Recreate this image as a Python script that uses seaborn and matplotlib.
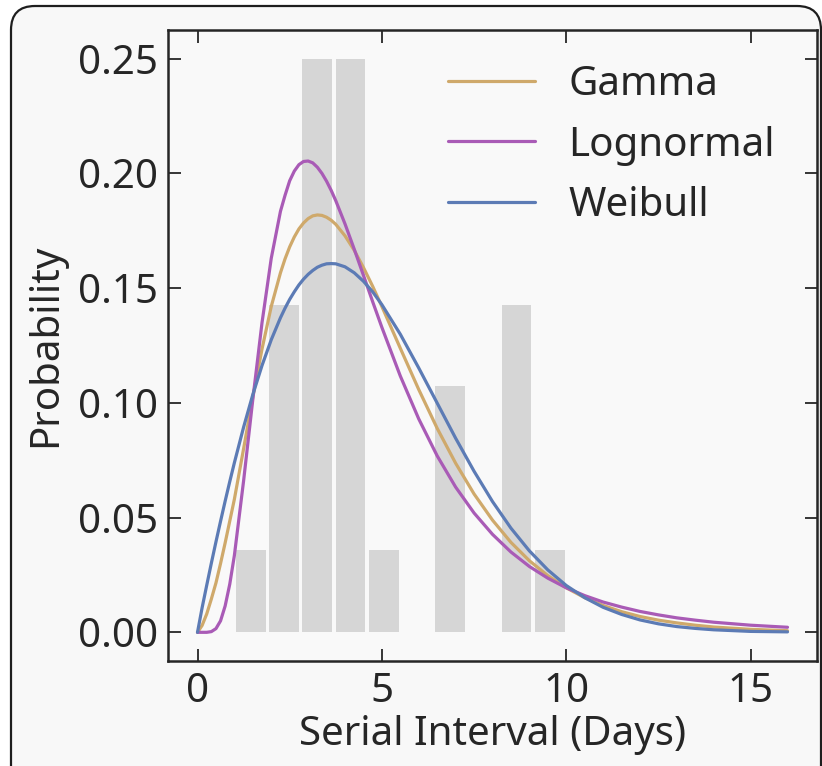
import matplotlib
matplotlib.use("Agg")
import matplotlib.pyplot as plt
from matplotlib.patches import FancyBboxPatch
from matplotlib.transforms import IdentityTransform
import pandas as pd
import seaborn as sns

# Observed serial intervals (days)
serial_days = [1,
               2, 2, 2, 2,
               3, 3, 3, 3, 3, 3, 3,
               4, 4, 4, 4, 4, 4, 4,
               5,
               7, 7, 7,
               9, 9, 9, 9,
               10]

# Grid of days at which the fitted densities are tabulated
days = [0, 0.125, 0.25, 0.375, 0.5, 0.625, 0.75, 0.875,
        1.0, 1.25, 1.5, 1.75, 2.0, 2.25,
        2.375, 2.5, 2.625, 2.75, 2.875, 3.0, 3.125, 3.25, 3.375, 3.5, 3.625, 3.75,
        4.0, 4.25, 4.5, 4.75, 5.0,
        5.5, 6.0, 6.5, 7.0, 7.5, 8.0, 8.5, 9.0, 9.5, 10,
        10.5, 11, 11.5, 12, 12.5, 13, 13.5, 14, 15, 16]

gamma_pdf = [0.0, 0.0030, 0.0080, 0.0145, 0.0215, 0.0300, 0.0390, 0.0485,
             0.0580, 0.0800, 0.1025, 0.1235, 0.1420, 0.1567,
             0.1628, 0.1680, 0.1723, 0.1758, 0.1784, 0.1803, 0.1815, 0.1819, 0.1817, 0.1809, 0.1796, 0.1778,
             0.1728, 0.1665, 0.1590, 0.1508, 0.1420,
             0.1238, 0.1058, 0.0889, 0.0737, 0.0603, 0.0489, 0.0392, 0.0312, 0.0247, 0.0194,
             0.0151, 0.0117, 0.0090, 0.0069, 0.0053, 0.0041, 0.0031, 0.0023, 0.0013, 0.0007]

lognormal_pdf = [0.0, 0.0, 0.0, 0.0003, 0.0016, 0.0050, 0.0115, 0.0210,
                 0.0335, 0.0660, 0.1015, 0.1350, 0.1630, 0.1835,
                 0.1905, 0.1968, 0.2010, 0.2038, 0.2052, 0.2054, 0.2046, 0.2027, 0.2000, 0.1966, 0.1926, 0.1881,
                 0.1780, 0.1670, 0.1556, 0.1441, 0.1329,
                 0.1117, 0.0930, 0.0769, 0.0633, 0.0520, 0.0427, 0.0350, 0.0287, 0.0236, 0.0194,
                 0.0160, 0.0132, 0.0110, 0.0091, 0.0076, 0.0063, 0.0053, 0.0044, 0.0031, 0.0022]

weibull_pdf = [0.0, 0.0107, 0.0205, 0.0301, 0.0394, 0.0484, 0.0572, 0.0657,
               0.0739, 0.0894, 0.1036, 0.1163, 0.1275, 0.1371,
               0.1413, 0.1451, 0.1484, 0.1514, 0.1539, 0.1560, 0.1577, 0.1591, 0.1600, 0.1606, 0.1607, 0.1606,
               0.1593, 0.1567, 0.1530, 0.1484, 0.1428,
               0.1299, 0.1152, 0.0999, 0.0846, 0.0702, 0.0570, 0.0454, 0.0355, 0.0272, 0.0204,
               0.0151, 0.0109, 0.0078, 0.0054, 0.0037, 0.0025, 0.0017, 0.0011, 0.0004, 0.0002]

series_names = ["Gamma", "Lognormal", "Weibull"]
series_colors = ["#cfa96b", "#a95bb6", "#5c7bb5"]

sns.set_theme(style="ticks")
plt.rcParams["font.family"] = ["Noto Sans", "DejaVu Sans"]
ink = "#262626"
plt.rcParams.update({"text.color": ink, "axes.labelcolor": ink,
                     "xtick.color": ink, "ytick.color": ink})

W, H = 822, 766
fig = plt.figure(figsize=(W / 100, H / 100), dpi=100)
fig.patch.set_facecolor("white")

# rounded panel behind the plot
panel = FancyBboxPatch((11, -40), 810, H - 6 + 40,
                       boxstyle="round,pad=0,rounding_size=24",
                       transform=IdentityTransform(), facecolor="#f8f8f8",
                       edgecolor="#1e1e1e", linewidth=1.6, zorder=-10)
fig.patches.append(panel)

ax = fig.add_axes([168 / W, 1 - 661 / H, (817 - 168) / W, (661 - 30) / H])
ax.set_facecolor("#f9f9f9")

sns.histplot(x=serial_days, bins=10, stat="probability", shrink=0.9,
             color="#d6d6d6", alpha=1.0, linewidth=0, ax=ax, zorder=1)

curves = pd.DataFrame({"day": days, "Gamma": gamma_pdf,
                       "Lognormal": lognormal_pdf, "Weibull": weibull_pdf})
for name, col in zip(series_names, series_colors):
    sns.lineplot(data=curves, x="day", y=name, color=col, lw=2.3,
                 label=name, ax=ax, zorder=3)

ax.set_xlim(-0.8, 16.8)
ax.set_ylim(-0.0125, 0.2625)
ax.set_xticks([0, 5, 10, 15])
ax.set_yticks([0.0, 0.05, 0.10, 0.15, 0.20, 0.25])
ax.set_yticklabels(["0.00", "0.05", "0.10", "0.15", "0.20", "0.25"])

for s in ax.spines.values():
    s.set_visible(True)
    s.set_color(ink)
    s.set_linewidth(1.8)

ax.tick_params(direction="in", top=True, right=True, length=9, width=1.3,
               labelsize=29, pad=7)
ax.tick_params(axis="x", pad=8)

ax.set_xlabel("Serial Interval (Days)", fontsize=29, labelpad=2)
ax.set_ylabel("Probability", fontsize=29, labelpad=9)

leg = ax.legend(loc="upper right", frameon=False, fontsize=29,
                handlelength=2.16, handletextpad=0.84, labelspacing=0.51,
                bbox_to_anchor=(0.960, 0.970), borderaxespad=0)

fig.savefig("out.png", dpi=100, facecolor=fig.get_facecolor())
